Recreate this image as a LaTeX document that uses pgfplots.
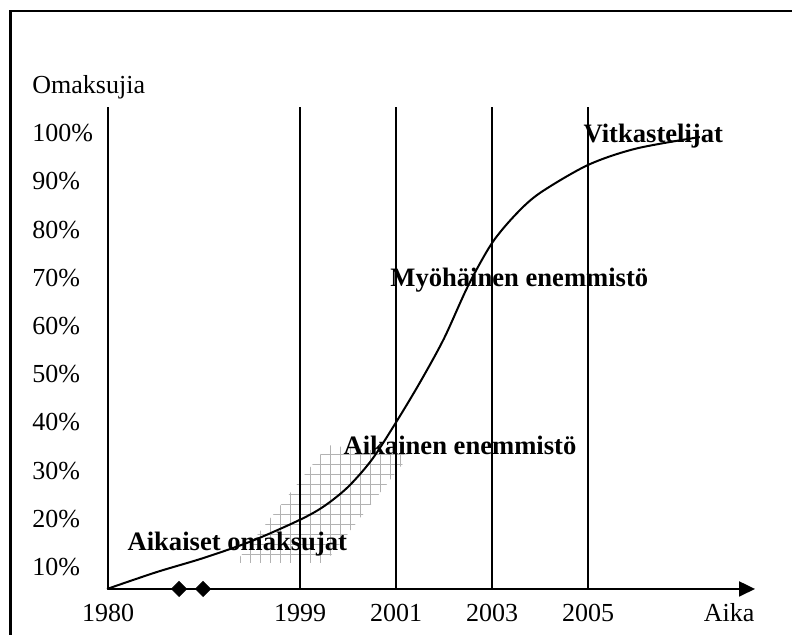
\documentclass[border=0pt]{standalone}
\usepackage{fontspec}
\setmainfont{Liberation Serif}
\usepackage{pgfplots}
\pgfplotsset{compat=1.18}
\usetikzlibrary{arrows.meta,patterns.meta}
\begin{document}
\begin{tikzpicture}
\begin{axis}[
  at={(0,0)}, anchor=south west,
  scale only axis, width=396pt, height=317.5pt,
  xmin=1992.75, xmax=2009.25, ymin=-4.108, ymax=127.63,
  clip=false,
  axis line style={draw=none},
  major tick length=0pt,
  /pgf/number format/assume math mode=true,
  xtick={1995,1999,2001,2003,2005,2007.94},
  xticklabels={1980,1999,2001,2003,2005,Aika},
  ytick={10,20,30,40,50,60,70,80,90,100},
  yticklabels={10\%,20\%,30\%,40\%,50\%,60\%,70\%,80\%,90\%,100\%},
  tick label style={font=\fontsize{13}{15}\selectfont, inner sep=0pt},
  xticklabel style={anchor=base, yshift=6.65pt},
  yticklabel style={anchor=west, xshift=16pt},
]
% hatched band
\addplot[draw=none, pattern={Hatch[distance=5pt, angle=0, line width=0.5pt]}, pattern color=black!30]
  coordinates {(1997.65,10.83) (1999.52,10.83) (2001.29,33.24) (1999.58,35.31)} -- cycle;
% vertical lines
\addplot[black, line width=1pt] coordinates {(1995,5.44) (1995,105.44)};
\addplot[black, line width=1pt] coordinates {(1999,5.44) (1999,105.44)};
\addplot[black, line width=1pt] coordinates {(2001,5.44) (2001,105.44)};
\addplot[black, line width=1pt] coordinates {(2003,5.44) (2003,105.44)};
\addplot[black, line width=1pt] coordinates {(2005,5.44) (2005,105.44)};
% time axis with arrow
\addplot[black, line width=1pt, -{Triangle[length=8pt,width=7.5pt]}] coordinates {(1995,5.44) (2008.48,5.44)};
% axis break diamonds
\addplot[only marks, mark=square*, mark size=2.65pt, mark options={rotate=45, fill=black, draw=black}]
  coordinates {(1996.48,5.44) (1996.98,5.44)};
% adoption curve
\addplot[black, line width=1pt, smooth, tension=0.5] coordinates {
 (1994.98,5.44) (1996.0,8.9) (1997.0,11.9) (1998.0,15.4) (1999.0,19.8) (1999.5,22.6)
 (2000.0,26.6) (2000.5,32.3) (2001.0,40.0) (2001.5,48.3) (2002.0,57.4) (2002.5,68.3)
 (2003.0,77.2) (2003.5,83.2) (2004.0,87.6) (2005.0,93.4) (2006.0,96.8) (2007.33,99.2)};
% labels
\node[anchor=base west, inner sep=0pt, font=\fontsize{13}{15}\selectfont] at (axis cs:1993.417,108.13) {Omaksujia};
\node[anchor=base west, inner sep=0pt, font=\fontsize{13.3}{15}\selectfont\bfseries] at (axis cs:1995.40,13.32) {Aikaiset omaksujat};
\node[anchor=base west, inner sep=0pt, font=\fontsize{13.3}{15}\selectfont\bfseries] at (axis cs:1999.90,33.24) {Aikainen enemmistö};
\node[anchor=base west, inner sep=0pt, font=\fontsize{13.3}{15}\selectfont\bfseries] at (axis cs:2000.875,68.09) {Myöhäinen enemmistö};
\node[anchor=base west, inner sep=0pt, font=\fontsize{13.3}{15}\selectfont\bfseries] at (axis cs:2004.90,97.97) {Vitkastelijat};
\end{axis}
\draw[line width=1.25pt, line join=miter] (5.25pt,0pt) -- (5.25pt,312pt) -- (396pt,312pt);
\pgfresetboundingbox
\path[use as bounding box] (0,0) rectangle (396pt,317.5pt);
\end{tikzpicture}
\end{document}
